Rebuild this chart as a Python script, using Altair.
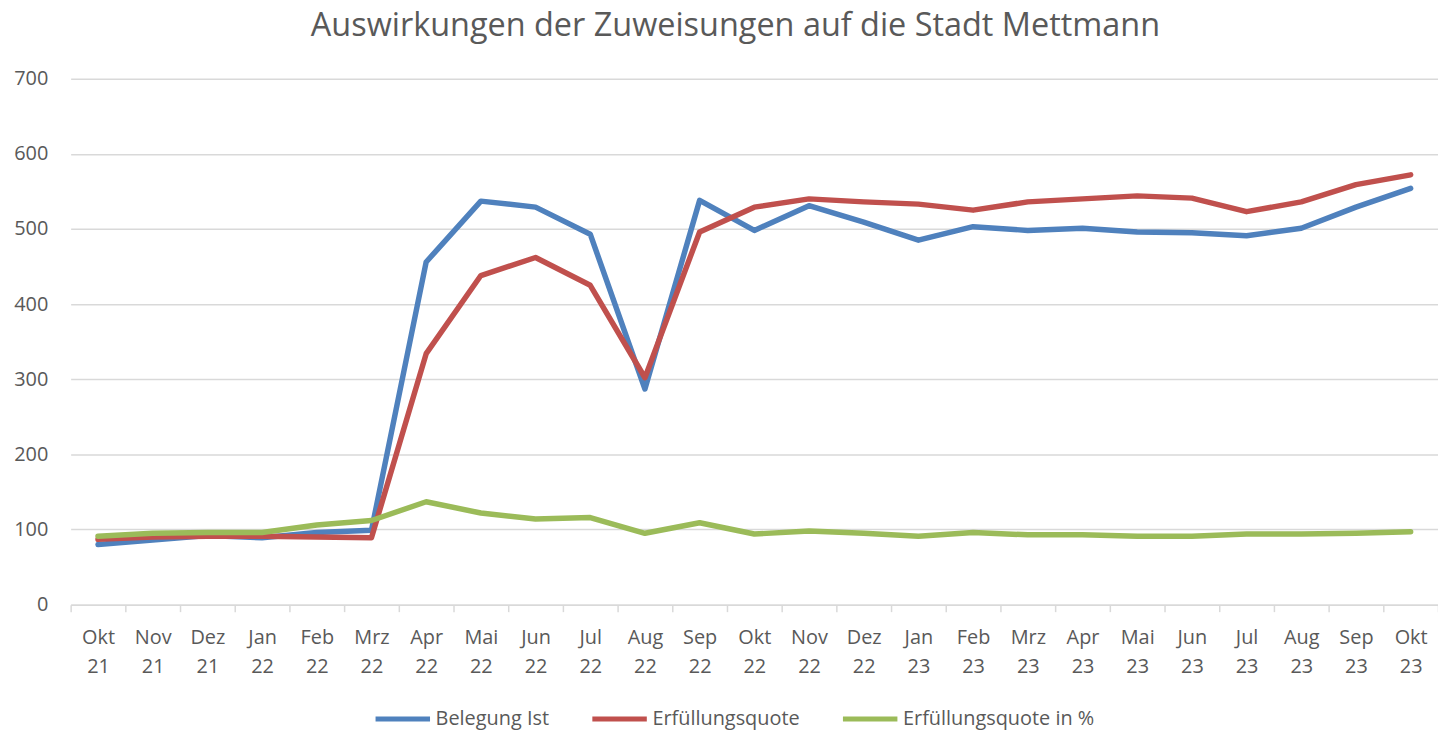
import altair as alt
import pandas as pd

months = ["Okt 21", "Nov 21", "Dez 21", "Jan 22", "Feb 22", "Mrz 22", "Apr 22", "Mai 22",
          "Jun 22", "Jul 22", "Aug 22", "Sep 22", "Okt 22", "Nov 22", "Dez 22", "Jan 23",
          "Feb 23", "Mrz 23", "Apr 23", "Mai 23", "Jun 23", "Jul 23", "Aug 23", "Sep 23", "Okt 23"]

belegung_ist = [80, 86, 92, 89, 96, 99, 456, 537, 529, 493, 287, 538, 498, 531, 509, 485,
                503, 498, 501, 496, 495, 491, 501, 529, 554]
erfuellungsquote = [87, 90, 91, 91, 90, 89, 334, 438, 462, 425, 302, 496, 529, 540, 536, 533,
                    525, 536, 540, 544, 541, 523, 536, 559, 572]
erfuellungsquote_pct = [91, 95, 96, 96, 106, 112, 137, 122, 114, 116, 95, 109, 94, 98, 95, 91,
                        96, 93, 93, 91, 91, 94, 94, 95, 97]

series_names = ["Belegung Ist", "Erfüllungsquote", "Erfüllungsquote in %"]
series_colors = ["#4F81BD", "#C0504D", "#9BBB59"]

rows = []
for name, vals in zip(series_names, [belegung_ist, erfuellungsquote, erfuellungsquote_pct]):
    for m, v in zip(months, vals):
        rows.append({"Monat": m, "Wert": v, "Serie": name})
df = pd.DataFrame(rows)

FONT = "Open Sans"
GREY = "#595959"

chart = alt.Chart(df).mark_line(strokeWidth=5.5, strokeCap="round", strokeJoin="round").encode(
    x=alt.X("Monat:O", sort=months,
            scale=alt.Scale(type="band", paddingInner=0, paddingOuter=0),
            axis=alt.Axis(title=None, labelAngle=0, labelExpr="split(datum.label, ' ')",
                          labelLineHeight=29, labelFontSize=20, labelColor=GREY, labelFont=FONT,
                          tickBand="extent", tickColor="#D9D9D9", tickSize=7, tickWidth=1.5,
                          domainColor="#D9D9D9", domainWidth=1.5, labelPadding=26,
                          grid=False, labelBaseline="middle")),
    y=alt.Y("Wert:Q", scale=alt.Scale(domain=[0, 700], nice=False),
            axis=alt.Axis(title=None, values=[0, 100, 200, 300, 400, 500, 600, 700],
                          labelFontSize=20, labelColor=GREY, labelFont=FONT, labelPadding=23,
                          ticks=False, domain=False, gridColor="#D9D9D9", gridWidth=1.5)),
    color=alt.Color("Serie:N", sort=series_names,
                    scale=alt.Scale(domain=series_names, range=series_colors),
                    legend=alt.Legend(title=None, orient="none", direction="horizontal",
                                      legendX=304, legendY=614, symbolType="stroke",
                                      symbolSize=3000, symbolStrokeWidth=5,
                                      labelFontSize=20, labelColor=GREY, labelFont=FONT,
                                      labelOffset=3, columnPadding=32, labelLimit=400)),
    order=alt.Order("Serie:N"),
).properties(
    width=1375, height=529,
    title=alt.TitleParams("Auswirkungen der Zuweisungen auf die Stadt Mettmann",
                          fontSize=32.6, font=FONT, color=GREY, fontWeight="normal",
                          anchor="middle", dx=-19, offset=26),
    padding={"left": 63, "top": 69, "right": 0, "bottom": 128},
    autosize=alt.AutoSizeParams(type="none"),
).configure_view(stroke=None)

chart.save("out.html", embed_options={"renderer": "svg", "actions": False})
